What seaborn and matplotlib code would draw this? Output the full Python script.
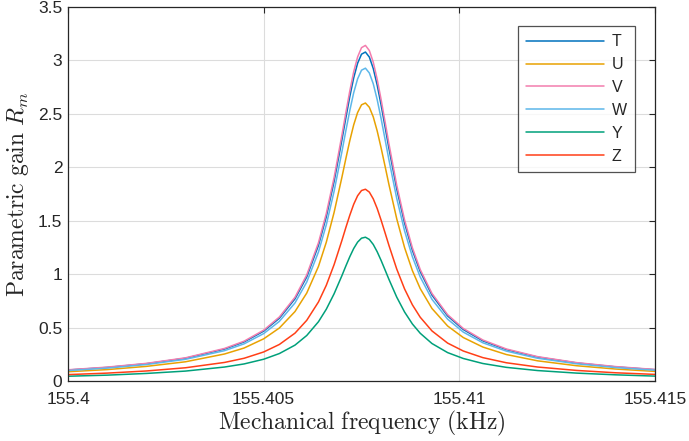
import matplotlib
matplotlib.use("Agg")
import matplotlib.pyplot as plt
import pandas as pd
import seaborn as sns

# ------------------------------------------------------------
# Values
# ------------------------------------------------------------
freq_khz = [
    155.4000, 155.4010, 155.4020, 155.4030, 155.4040, 155.4045, 155.4050,
    155.4054, 155.4058, 155.4061, 155.4064, 155.4066, 155.4068, 155.4070,
    155.4071, 155.4072, 155.4073, 155.4074, 155.4075, 155.4076, 155.4077,
    155.4078, 155.4079, 155.4080, 155.4081, 155.4082, 155.4084, 155.4086,
    155.4088, 155.4090, 155.4093, 155.4097, 155.4101, 155.4106, 155.4112,
    155.4120, 155.4130, 155.4140, 155.4150,
]

gain_T = [
    0.103, 0.127, 0.162, 0.213, 0.299, 0.366, 0.467, 0.587, 0.769, 0.974,
    1.270, 1.537, 1.869, 2.259, 2.464, 2.661, 2.837, 2.974, 3.059, 3.079,
    3.032, 2.925, 2.770, 2.584, 2.382, 2.178, 1.797, 1.478, 1.223, 1.024,
    0.804, 0.609, 0.482, 0.376, 0.294, 0.224, 0.169, 0.132, 0.106,
]
gain_U = [
    0.087, 0.107, 0.137, 0.180, 0.253, 0.309, 0.395, 0.496, 0.650, 0.823,
    1.073, 1.299, 1.579, 1.909, 2.082, 2.249, 2.397, 2.513, 2.585, 2.602,
    2.562, 2.472, 2.341, 2.183, 2.013, 1.840, 1.518, 1.249, 1.033, 0.865,
    0.679, 0.515, 0.407, 0.318, 0.248, 0.189, 0.143, 0.112, 0.090,
]
gain_V = [
    0.105, 0.130, 0.165, 0.217, 0.305, 0.373, 0.476, 0.599, 0.784, 0.993,
    1.295, 1.568, 1.906, 2.304, 2.513, 2.714, 2.894, 3.033, 3.120, 3.141,
    3.093, 2.984, 2.825, 2.636, 2.430, 2.222, 1.833, 1.508, 1.247, 1.044,
    0.820, 0.621, 0.492, 0.384, 0.300, 0.228, 0.172, 0.135, 0.108,
]
gain_W = [
    0.098, 0.121, 0.154, 0.203, 0.284, 0.348, 0.444, 0.558, 0.731, 0.926,
    1.208, 1.462, 1.777, 2.148, 2.343, 2.531, 2.698, 2.828, 2.909, 2.928,
    2.883, 2.782, 2.634, 2.457, 2.265, 2.071, 1.709, 1.406, 1.163, 0.974,
    0.765, 0.579, 0.458, 0.358, 0.280, 0.213, 0.161, 0.126, 0.101,
]
gain_Y = [
    0.045, 0.055, 0.071, 0.093, 0.131, 0.160, 0.204, 0.257, 0.336, 0.426,
    0.555, 0.672, 0.817, 0.987, 1.077, 1.163, 1.240, 1.300, 1.337, 1.346,
    1.325, 1.278, 1.210, 1.129, 1.041, 0.952, 0.785, 0.646, 0.534, 0.447,
    0.351, 0.266, 0.211, 0.164, 0.128, 0.098, 0.074, 0.058, 0.046,
]
gain_Z = [
    0.060, 0.074, 0.094, 0.124, 0.174, 0.213, 0.272, 0.342, 0.448, 0.568,
    0.740, 0.896, 1.090, 1.317, 1.437, 1.551, 1.654, 1.734, 1.783, 1.795,
    1.768, 1.705, 1.615, 1.506, 1.389, 1.270, 1.048, 0.862, 0.713, 0.597,
    0.469, 0.355, 0.281, 0.219, 0.171, 0.131, 0.099, 0.077, 0.062,
]

series_names = ["T", "U", "V", "W", "Y", "Z"]
series_colors = ["#0072BD", "#E8A202", "#F37DAE", "#5DB7EA", "#00A07A", "#FF3F17"]

x_ticks = [155.400, 155.405, 155.410, 155.415]
x_tick_labels = ["155.4", "155.405", "155.41", "155.415"]
y_ticks = [0, 0.5, 1, 1.5, 2, 2.5, 3, 3.5]
y_tick_labels = ["0", "0.5", "1", "1.5", "2", "2.5", "3", "3.5"]

# long-form table for seaborn
all_gains = [gain_T, gain_U, gain_V, gain_W, gain_Y, gain_Z]
df = pd.concat(
    [pd.DataFrame({"freq": freq_khz, "gain": g, "curve": name})
     for name, g in zip(series_names, all_gains)],
    ignore_index=True,
)

# ------------------------------------------------------------
# Plot
# ------------------------------------------------------------
sns.set_style("white")
plt.rcParams["font.family"] = ["Liberation Sans", "DejaVu Sans"]
plt.rcParams["mathtext.fontset"] = "cm"

fig = plt.figure(figsize=(6.89, 4.41), dpi=100)
ax = fig.add_axes([0.0987, 0.136, 0.852, 0.848])

sns.lineplot(
    data=df, x="freq", y="gain", hue="curve",
    hue_order=series_names, palette=series_colors,
    linewidth=1.1, ax=ax, sort=False,
)

ax.set_xlim(155.400, 155.415)
ax.set_ylim(0, 3.5)
ax.set_xticks(x_ticks)
ax.set_xticklabels(x_tick_labels)
ax.set_yticks(y_ticks)
ax.set_yticklabels(y_tick_labels)
ax.tick_params(direction="in", length=4, width=0.8, colors="#262626",
               labelsize=12.5, top=True, right=True)
ax.tick_params(axis="x", pad=8)
ax.tick_params(axis="y", pad=4)
ax.grid(True, color="#dcdcdc", linewidth=0.8)
for s in ax.spines.values():
    s.set_color("#262626")
    s.set_linewidth(0.9)

ax.set_xlabel(r"$\mathrm{Mechanical\ frequency\ (kHz)}$", fontsize=17, labelpad=1)
ax.set_ylabel(r"$\mathrm{Parametric\ gain}\ R_m$", fontsize=17, labelpad=5)

leg = ax.legend(
    loc="upper right", bbox_to_anchor=(0.966, 0.949), title=None,
    frameon=True, fancybox=False, edgecolor="#262626",
    fontsize=11.5, handlelength=4.9, handletextpad=0.5,
    labelspacing=0.5, borderpad=0.5, borderaxespad=0,
)
leg.get_frame().set_linewidth(0.9)

fig.savefig("out.png", dpi=100)
